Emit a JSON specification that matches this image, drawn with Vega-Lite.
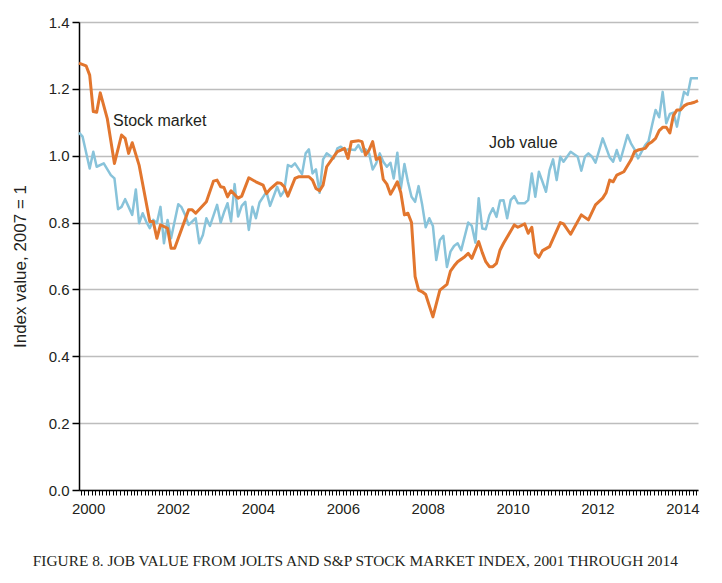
{
  "$schema": "https://vega.github.io/schema/vega-lite/v6.json",
  "width": 619,
  "height": 468,
  "autosize": {"type": "none"},
  "padding": {"left": 79, "top": 22, "right": 24, "bottom": 93},
  "background": "white",
  "config": {
    "view": {"stroke": null},
    "font": "Liberation Sans",
    "axis": {"labelFont": "Liberation Sans", "titleFont": "Liberation Sans", "labelColor": "#231f20", "titleColor": "#231f20"}
  },
  "title": {
    "text": "FIGURE 8. JOB VALUE FROM JOLTS AND S&P STOCK MARKET INDEX, 2001 THROUGH 2014",
    "orient": "bottom",
    "anchor": "middle",
    "frame": "bounds",
    "font": "Liberation Serif",
    "fontSize": 15.4,
    "fontWeight": "normal",
    "color": "#231f20",
    "offset": 38
  },
  "datasets": {
    "job": [
      {"d":"1999-10-15","v":1.069},{"d":"1999-11-15","v":1.057},{"d":"2000-01-15","v":0.962},{"d":"2000-02-15","v":1.012},
      {"d":"2000-03-15","v":0.967},{"d":"2000-05-15","v":0.977},{"d":"2000-07-15","v":0.942},{"d":"2000-08-15","v":0.932},
      {"d":"2000-09-15","v":0.840},{"d":"2000-10-15","v":0.847},{"d":"2000-11-15","v":0.870},{"d":"2000-12-15","v":0.847},
      {"d":"2001-01-15","v":0.823},{"d":"2001-02-15","v":0.899},{"d":"2001-03-15","v":0.798},{"d":"2001-04-15","v":0.828},
      {"d":"2001-05-15","v":0.803},{"d":"2001-06-15","v":0.783},{"d":"2001-07-15","v":0.808},{"d":"2001-08-15","v":0.798},
      {"d":"2001-09-15","v":0.847},{"d":"2001-10-15","v":0.738},{"d":"2001-11-15","v":0.808},{"d":"2001-12-15","v":0.753},
      {"d":"2002-02-15","v":0.855},{"d":"2002-03-15","v":0.846},{"d":"2002-04-15","v":0.823},{"d":"2002-05-15","v":0.793},
      {"d":"2002-07-15","v":0.813},{"d":"2002-08-15","v":0.738},{"d":"2002-09-15","v":0.763},{"d":"2002-10-15","v":0.813},
      {"d":"2002-11-15","v":0.790},{"d":"2003-01-15","v":0.853},{"d":"2003-02-15","v":0.800},{"d":"2003-03-15","v":0.830},
      {"d":"2003-04-15","v":0.858},{"d":"2003-05-15","v":0.803},{"d":"2003-06-15","v":0.915},{"d":"2003-07-15","v":0.818},
      {"d":"2003-08-15","v":0.850},{"d":"2003-09-15","v":0.862},{"d":"2003-10-15","v":0.778},{"d":"2003-11-15","v":0.847},
      {"d":"2003-12-15","v":0.813},{"d":"2004-01-15","v":0.860},{"d":"2004-03-15","v":0.892},{"d":"2004-04-15","v":0.850},
      {"d":"2004-06-15","v":0.907},{"d":"2004-07-15","v":0.879},{"d":"2004-08-15","v":0.895},{"d":"2004-09-15","v":0.972},
      {"d":"2004-10-15","v":0.967},{"d":"2004-11-15","v":0.977},{"d":"2005-01-15","v":0.945},{"d":"2005-02-15","v":1.007},
      {"d":"2005-03-15","v":1.019},{"d":"2005-04-15","v":0.947},{"d":"2005-05-15","v":0.959},{"d":"2005-06-15","v":0.889},
      {"d":"2005-07-15","v":0.989},{"d":"2005-08-15","v":1.007},{"d":"2005-09-15","v":0.999},{"d":"2005-10-15","v":0.992},
      {"d":"2005-11-15","v":1.022},{"d":"2005-12-15","v":1.027},{"d":"2006-01-15","v":1.017},{"d":"2006-02-15","v":1.019},
      {"d":"2006-04-15","v":1.017},{"d":"2006-05-15","v":1.032},{"d":"2006-06-15","v":1.012},{"d":"2006-07-15","v":1.019},
      {"d":"2006-08-15","v":1.007},{"d":"2006-09-15","v":0.959},{"d":"2006-10-15","v":0.977},{"d":"2006-11-15","v":1.007},
      {"d":"2006-12-15","v":0.982},{"d":"2007-01-15","v":0.967},{"d":"2007-02-15","v":0.979},{"d":"2007-03-15","v":0.932},
      {"d":"2007-04-15","v":1.009},{"d":"2007-05-15","v":0.902},{"d":"2007-06-15","v":0.975},{"d":"2007-07-15","v":0.922},
      {"d":"2007-08-15","v":0.877},{"d":"2007-09-15","v":0.862},{"d":"2007-10-15","v":0.909},{"d":"2007-11-15","v":0.853},
      {"d":"2007-12-15","v":0.786},{"d":"2008-01-15","v":0.813},{"d":"2008-02-15","v":0.790},{"d":"2008-03-15","v":0.688},
      {"d":"2008-04-15","v":0.748},{"d":"2008-05-15","v":0.760},{"d":"2008-06-15","v":0.667},{"d":"2008-07-15","v":0.713},
      {"d":"2008-08-15","v":0.730},{"d":"2008-09-15","v":0.738},{"d":"2008-10-15","v":0.717},{"d":"2008-12-15","v":0.800},
      {"d":"2009-01-15","v":0.790},{"d":"2009-02-15","v":0.740},{"d":"2009-03-15","v":0.873},{"d":"2009-04-15","v":0.782},
      {"d":"2009-05-15","v":0.780},{"d":"2009-06-15","v":0.822},{"d":"2009-07-15","v":0.843},{"d":"2009-08-15","v":0.817},
      {"d":"2009-09-15","v":0.866},{"d":"2009-10-15","v":0.867},{"d":"2009-11-15","v":0.813},{"d":"2009-12-15","v":0.867},
      {"d":"2010-01-15","v":0.879},{"d":"2010-02-15","v":0.858},{"d":"2010-04-15","v":0.858},{"d":"2010-05-15","v":0.867},
      {"d":"2010-06-15","v":0.947},{"d":"2010-07-15","v":0.877},{"d":"2010-08-15","v":0.952},{"d":"2010-09-15","v":0.922},
      {"d":"2010-10-15","v":0.892},{"d":"2010-11-15","v":0.957},{"d":"2010-12-15","v":0.989},{"d":"2011-01-15","v":0.927},
      {"d":"2011-02-15","v":0.997},{"d":"2011-03-15","v":0.982},{"d":"2011-05-15","v":1.012},{"d":"2011-07-15","v":0.997},
      {"d":"2011-08-15","v":0.955},{"d":"2011-09-15","v":0.997},{"d":"2011-10-15","v":1.007},{"d":"2011-11-15","v":0.997},
      {"d":"2011-12-15","v":0.979},{"d":"2012-01-15","v":1.015},{"d":"2012-02-15","v":1.052},{"d":"2012-04-15","v":0.995},
      {"d":"2012-05-15","v":0.982},{"d":"2012-06-15","v":1.017},{"d":"2012-07-15","v":0.985},{"d":"2012-09-15","v":1.062},
      {"d":"2012-10-15","v":1.037},{"d":"2012-11-15","v":1.019},{"d":"2012-12-15","v":0.992},{"d":"2013-02-15","v":1.032},
      {"d":"2013-03-15","v":1.043},{"d":"2013-04-15","v":1.092},{"d":"2013-05-15","v":1.137},{"d":"2013-06-15","v":1.115},
      {"d":"2013-07-15","v":1.191},{"d":"2013-08-15","v":1.097},{"d":"2013-09-15","v":1.125},{"d":"2013-10-15","v":1.129},
      {"d":"2013-11-15","v":1.087},{"d":"2013-12-15","v":1.142},{"d":"2014-01-15","v":1.191},{"d":"2014-02-15","v":1.182},
      {"d":"2014-03-15","v":1.232},{"d":"2014-04-15","v":1.232},{"d":"2014-05-15","v":1.232}
    ],
    "stock": [
      {"d":"1999-10-15","v":1.277},{"d":"1999-12-15","v":1.269},{"d":"2000-01-15","v":1.241},{"d":"2000-02-15","v":1.132},
      {"d":"2000-03-15","v":1.130},{"d":"2000-04-15","v":1.188},{"d":"2000-06-15","v":1.110},{"d":"2000-08-15","v":0.977},
      {"d":"2000-10-15","v":1.062},{"d":"2000-11-15","v":1.052},{"d":"2000-12-15","v":1.007},{"d":"2001-01-15","v":1.039},
      {"d":"2001-03-15","v":0.972},{"d":"2001-06-15","v":0.803},{"d":"2001-07-15","v":0.803},{"d":"2001-08-15","v":0.753},
      {"d":"2001-09-15","v":0.793},{"d":"2001-11-15","v":0.783},{"d":"2001-12-15","v":0.723},{"d":"2002-01-15","v":0.723},
      {"d":"2002-05-15","v":0.838},{"d":"2002-06-15","v":0.838},{"d":"2002-07-15","v":0.828},{"d":"2002-10-15","v":0.862},
      {"d":"2002-12-15","v":0.924},{"d":"2003-01-15","v":0.927},{"d":"2003-02-15","v":0.907},{"d":"2003-03-15","v":0.905},
      {"d":"2003-04-15","v":0.877},{"d":"2003-05-15","v":0.895},{"d":"2003-07-15","v":0.873},{"d":"2003-08-15","v":0.879},
      {"d":"2003-10-15","v":0.934},{"d":"2003-12-15","v":0.922},{"d":"2004-02-15","v":0.912},{"d":"2004-03-15","v":0.887},
      {"d":"2004-04-15","v":0.900},{"d":"2004-06-15","v":0.919},{"d":"2004-07-15","v":0.918},{"d":"2004-08-15","v":0.907},
      {"d":"2004-09-15","v":0.879},{"d":"2004-11-15","v":0.932},{"d":"2004-12-15","v":0.937},{"d":"2005-03-15","v":0.937},
      {"d":"2005-04-15","v":0.927},{"d":"2005-05-15","v":0.902},{"d":"2005-06-15","v":0.895},{"d":"2005-07-15","v":0.912},
      {"d":"2005-08-15","v":0.967},{"d":"2005-10-15","v":0.997},{"d":"2005-11-15","v":1.012},{"d":"2005-12-15","v":1.017},
      {"d":"2006-01-15","v":1.022},{"d":"2006-02-15","v":0.992},{"d":"2006-03-15","v":1.042},{"d":"2006-05-15","v":1.045},
      {"d":"2006-06-15","v":1.042},{"d":"2006-07-15","v":1.002},{"d":"2006-08-15","v":1.017},{"d":"2006-09-15","v":1.042},
      {"d":"2006-10-15","v":0.989},{"d":"2006-11-15","v":0.995},{"d":"2006-12-15","v":0.929},{"d":"2007-01-15","v":0.915},
      {"d":"2007-02-15","v":0.885},{"d":"2007-03-15","v":0.902},{"d":"2007-04-15","v":0.922},{"d":"2007-05-15","v":0.889},
      {"d":"2007-06-15","v":0.823},{"d":"2007-07-15","v":0.828},{"d":"2007-08-15","v":0.800},{"d":"2007-09-15","v":0.638},
      {"d":"2007-10-15","v":0.598},{"d":"2007-11-15","v":0.593},{"d":"2007-12-15","v":0.585},{"d":"2008-02-15","v":0.518},
      {"d":"2008-04-15","v":0.598},{"d":"2008-06-15","v":0.615},{"d":"2008-07-15","v":0.655},{"d":"2008-08-15","v":0.670},
      {"d":"2008-09-15","v":0.683},{"d":"2008-11-15","v":0.698},{"d":"2008-12-15","v":0.708},{"d":"2009-01-15","v":0.693},
      {"d":"2009-03-15","v":0.743},{"d":"2009-04-15","v":0.710},{"d":"2009-05-15","v":0.683},{"d":"2009-06-15","v":0.668},
      {"d":"2009-07-15","v":0.668},{"d":"2009-08-15","v":0.678},{"d":"2009-09-15","v":0.718},{"d":"2009-10-15","v":0.738},
      {"d":"2010-01-15","v":0.793},{"d":"2010-02-15","v":0.786},{"d":"2010-04-15","v":0.796},{"d":"2010-05-15","v":0.768},
      {"d":"2010-06-15","v":0.786},{"d":"2010-07-15","v":0.708},{"d":"2010-08-15","v":0.696},{"d":"2010-09-15","v":0.716},
      {"d":"2010-11-15","v":0.728},{"d":"2011-02-15","v":0.800},{"d":"2011-03-15","v":0.796},{"d":"2011-05-15","v":0.765},
      {"d":"2011-08-15","v":0.823},{"d":"2011-10-15","v":0.808},{"d":"2011-12-15","v":0.853},{"d":"2012-02-15","v":0.873},
      {"d":"2012-03-15","v":0.889},{"d":"2012-04-15","v":0.927},{"d":"2012-05-15","v":0.922},{"d":"2012-06-15","v":0.942},
      {"d":"2012-08-15","v":0.952},{"d":"2012-10-15","v":0.987},{"d":"2012-11-15","v":1.012},{"d":"2012-12-15","v":1.017},
      {"d":"2013-02-15","v":1.022},{"d":"2013-03-15","v":1.035},{"d":"2013-04-15","v":1.042},{"d":"2013-05-15","v":1.052},
      {"d":"2013-06-15","v":1.075},{"d":"2013-07-15","v":1.085},{"d":"2013-08-15","v":1.085},{"d":"2013-09-15","v":1.068},
      {"d":"2013-10-15","v":1.120},{"d":"2013-11-15","v":1.137},{"d":"2013-12-15","v":1.137},{"d":"2014-01-15","v":1.149},
      {"d":"2014-02-15","v":1.155},{"d":"2014-03-15","v":1.157},{"d":"2014-04-15","v":1.160},{"d":"2014-05-15","v":1.165}
    ],
    "labels": [
      {"d":"2000-08-03","v":1.104,"t":"Stock market"},
      {"d":"2009-06-12","v":1.037,"t":"Job value"}
    ]
  },
  "encoding": {
    "x": {
      "field": "d",
      "type": "temporal",
      "scale": {"domain": [{"year": 1999, "month": 10, "date": 15}, {"year": 2014, "month": 5, "date": 15}]},
      "axis": {
        "title": null,
        "grid": false,
        "domainColor": "#000000",
        "domainWidth": 1.5,
        "tickColor": "#000000",
        "tickSize": 5,
        "tickWidth": 1,
        "tickCount": {"interval": "month", "step": 1},
        "labelExpr": "month(datum.value) == 0 && year(datum.value) % 2 == 0 ? timeFormat(datum.value, '%Y') : ''",
        "labelOverlap": false,
        "labelFlush": false,
        "labelFontSize": 15,
        "labelPadding": 6
      }
    },
    "y": {
      "field": "v",
      "type": "quantitative",
      "scale": {"domain": [0, 1.4], "nice": false, "zero": true},
      "axis": {
        "values": [0, 0.2, 0.4, 0.6, 0.8, 1.0, 1.2, 1.4],
        "format": ".1f",
        "grid": true,
        "gridColor": "#bdbdbd",
        "gridWidth": 1.5,
        "domainColor": "#000000",
        "domainWidth": 1.5,
        "tickColor": "#000000",
        "tickSize": 7,
        "tickWidth": 1.5,
        "labelFontSize": 15,
        "labelPadding": 3,
        "title": "Index value, 2007 = 1",
        "titleFontSize": 17,
        "titleFontWeight": "normal",
        "titlePadding": 19,
        "titleY": 244
      }
    }
  },
  "layer": [
    {
      "data": {"name": "job", "format": {"parse": {"d": "date:'%Y-%m-%d'"}}},
      "mark": {"type": "line", "color": "#88c3da", "strokeWidth": 2.5, "strokeJoin": "round"}
    },
    {
      "data": {"name": "stock", "format": {"parse": {"d": "date:'%Y-%m-%d'"}}},
      "mark": {"type": "line", "color": "#e2762e", "strokeWidth": 3, "strokeJoin": "round"}
    },
    {
      "data": {"name": "labels", "format": {"parse": {"d": "date:'%Y-%m-%d'"}}},
      "mark": {"type": "text", "align": "left", "baseline": "middle", "fontSize": 16, "font": "Liberation Sans", "color": "#231f20"},
      "encoding": {"text": {"field": "t"}}
    }
  ]
}
